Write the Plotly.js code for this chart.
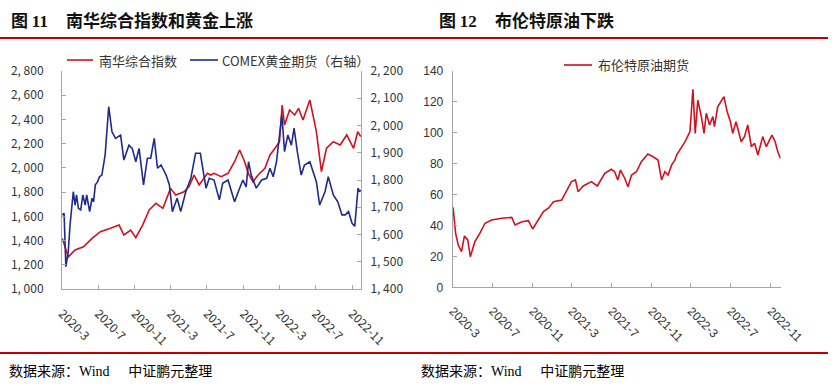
<!DOCTYPE html>
<html>
<head>
<meta charset="utf-8">
<script src="https://cdn.plot.ly/plotly-3.0.1.min.js"></script>
<style>
html,body{margin:0;padding:0;background:#fff;}
#chart{width:837px;height:386px;}
</style>
</head>
<body>
<div id="chart"></div>
<script>
// ---- Figure 11: Nanhua composite index (left axis) ----
const nhDates = ['2020-03-02','2020-03-22','2020-04-14','2020-05-12','2020-06-10','2020-07-08','2020-08-11','2020-09-09','2020-09-25','2020-10-18','2020-11-04','2020-11-27','2020-12-19','2021-01-11','2021-02-03','2021-02-19','2021-03-01','2021-03-18','2021-04-15','2021-05-02','2021-05-19','2021-06-05','2021-07-03','2021-07-14','2021-07-25','2021-08-18','2021-09-10','2021-10-02','2021-10-19','2021-11-05','2021-11-17','2021-12-03','2021-12-20','2022-01-12','2022-01-29','2022-02-15','2022-03-02','2022-03-11','2022-03-19','2022-04-05','2022-04-22','2022-05-05','2022-05-20','2022-06-12','2022-06-23','2022-07-04','2022-07-21','2022-08-07','2022-08-30','2022-09-22','2022-10-14','2022-11-06','2022-11-20','2022-11-30'];
const nhValues = [1418,1265,1322,1349,1418,1473,1501,1528,1446,1487,1424,1528,1652,1708,1666,1776,1831,1776,1803,1845,1941,1859,1955,1941,1955,1927,1955,2051,2148,2051,1955,1886,1941,1997,2107,2162,2216,2519,2354,2478,2437,2492,2395,2561,2437,2299,1969,2162,2216,2189,2272,2162,2299,2258];

// ---- Figure 11: COMEX gold futures (right axis) ----
const auDates = ['2020-03-02','2020-03-08','2020-03-14','2020-03-22','2020-03-28','2020-04-08','2020-04-14','2020-04-19','2020-04-25','2020-05-03','2020-05-10','2020-05-18','2020-05-23','2020-06-02','2020-06-10','2020-06-15','2020-06-21','2020-06-29','2020-07-05','2020-07-13','2020-07-24','2020-08-05','2020-08-16','2020-08-28','2020-09-14','2020-09-25','2020-10-12','2020-10-23','2020-11-04','2020-11-15','2020-11-30','2020-12-13','2020-12-24','2021-01-05','2021-01-16','2021-01-28','2021-02-14','2021-02-25','2021-03-07','2021-03-23','2021-04-04','2021-04-21','2021-05-08','2021-05-24','2021-06-09','2021-06-20','2021-06-28','2021-07-09','2021-07-25','2021-08-12','2021-08-23','2021-09-10','2021-09-21','2021-10-02','2021-10-19','2021-10-30','2021-11-10','2021-11-18','2021-11-27','2021-12-14','2022-01-01','2022-01-18','2022-01-29','2022-02-09','2022-02-20','2022-03-02','2022-03-10','2022-03-19','2022-03-30','2022-04-11','2022-04-20','2022-05-01','2022-05-14','2022-05-25','2022-06-12','2022-06-23','2022-07-04','2022-07-15','2022-08-02','2022-08-13','2022-08-30','2022-09-14','2022-09-28','2022-10-09','2022-10-20','2022-11-01','2022-11-10','2022-11-21','2022-11-26','2022-11-30'];
const auValues = [1672,1678,1482,1537,1635,1757,1708,1745,1696,1690,1745,1708,1745,1684,1733,1720,1782,1794,1812,1818,1892,2069,1977,1953,1965,1873,1928,1916,1867,1916,1782,1880,1880,1953,1843,1855,1818,1782,1684,1733,1684,1757,1806,1898,1898,1830,1770,1806,1800,1727,1788,1800,1757,1720,1770,1800,1775,1867,1818,1770,1800,1806,1843,1812,1867,1953,2039,1904,1965,1928,1990,1904,1818,1855,1867,1830,1794,1708,1757,1812,1745,1720,1672,1672,1684,1641,1630,1770,1757,1763];

// ---- Figure 12: Brent crude futures ----
const brDates = ['2020-03-02','2020-03-10','2020-03-18','2020-03-28','2020-04-06','2020-04-16','2020-04-24','2020-05-08','2020-05-23','2020-06-08','2020-06-28','2020-07-29','2020-08-29','2020-09-08','2020-09-29','2020-10-19','2020-11-01','2020-11-19','2020-12-04','2020-12-19','2021-01-04','2021-01-29','2021-02-14','2021-02-28','2021-03-12','2021-03-20','2021-04-05','2021-04-30','2021-05-18','2021-06-10','2021-06-30','2021-07-10','2021-07-20','2021-07-28','2021-08-10','2021-08-20','2021-08-31','2021-09-15','2021-09-30','2021-10-20','2021-11-05','2021-11-20','2021-12-01','2021-12-11','2021-12-21','2022-01-01','2022-01-11','2022-01-16','2022-01-26','2022-02-11','2022-02-26','2022-03-07','2022-03-14','2022-03-22','2022-04-02','2022-04-10','2022-04-17','2022-04-27','2022-05-07','2022-05-12','2022-05-22','2022-06-02','2022-06-10','2022-06-20','2022-06-30','2022-07-07','2022-07-17','2022-08-02','2022-08-12','2022-08-22','2022-09-02','2022-09-12','2022-09-22','2022-10-07','2022-10-18','2022-11-04','2022-11-14','2022-11-22','2022-11-30'];
const brValues = [51.7,34.9,27.3,23.0,33.2,30.6,19.8,29.5,34.9,41.4,43.5,44.6,45.2,40.3,42.4,43.1,37.7,43.5,48.9,51.1,55.3,56.4,62.9,68.3,69.4,61.8,65.5,68.3,65.5,73.7,76.3,74.7,69.4,75.8,70.5,65.0,72.6,74.7,81.2,86.2,84.4,82.3,69.4,74.7,72.6,79.1,82.3,85.5,88.8,94.1,100.6,128.0,99.5,121.0,110.3,99.5,112.5,104.9,110.3,103.8,116.7,120.0,123.2,113.5,107.0,99.5,107.0,94.1,97.4,104.9,90.9,93.1,85.5,97.4,90.9,98.4,94.1,87.7,83.4];

// ---- Tick labels ----
const xTickDates = ['2020-03-01','2020-07-01','2020-11-01','2021-03-01','2021-07-01','2021-11-01','2022-03-01','2022-07-01','2022-11-01'];
const xTickLabels = ['2020-3','2020-7','2020-11','2021-3','2021-7','2021-11','2022-3','2022-7','2022-11'];
const yLeftTicks = [1000,1200,1400,1600,1800,2000,2200,2400,2600,2800];
const yLeftLabels = ['1, 000','1, 200','1, 400','1, 600','1, 800','2, 000','2, 200','2, 400','2, 600','2, 800'];
const yRightTicks = [1400,1500,1600,1700,1800,1900,2000,2100,2200];
const yRightLabels = ['1, 400','1, 500','1, 600','1, 700','1, 800','1, 900','2, 000','2, 100','2, 200'];
const yOilTicks = [0,20,40,60,80,100,120,140];

const seriesNames = ['南华综合指数','COMEX黄金期货（右轴）','布伦特原油期货'];

const W = 837, H = 386;
const px = v => v / W;
const py = v => 1 - v / H;

const RED = '#D0111F';
const BLUE = '#1E2B8C';
const AX = '#A6A6A6';
const cjk = 'Noto Sans CJK SC, sans-serif';
const sans = 'Liberation Sans, Arial, sans-serif';

const traces = [
  {x: nhDates, y: nhValues, xaxis: 'x', yaxis: 'y', type: 'scatter', mode: 'lines',
   name: seriesNames[0], line: {color: RED, width: 1.6}},
  {x: auDates, y: auValues, xaxis: 'x', yaxis: 'y2', type: 'scatter', mode: 'lines',
   name: seriesNames[1], line: {color: BLUE, width: 1.6}},
  {x: brDates, y: brValues, xaxis: 'x2', yaxis: 'y3', type: 'scatter', mode: 'lines',
   name: seriesNames[2], line: {color: RED, width: 1.6}}
];

const axCommon = {
  showgrid: false, zeroline: false, showline: true, linecolor: AX, linewidth: 1,
  ticks: 'inside', ticklen: 4, tickcolor: AX, tickwidth: 1
};

const layout = {
  width: W, height: H,
  margin: {l: 0, r: 0, t: 0, b: 0},
  paper_bgcolor: '#fff', plot_bgcolor: '#fff',
  showlegend: false,
  xaxis: Object.assign({}, axCommon, {
    domain: [px(62), px(361)], anchor: 'y', type: 'date',
    range: ['2020-03-01', '2022-12-01'],
    tickvals: xTickDates, ticktext: xTickLabels, tickangle: 45,
    tickfont: {family: cjk, size: 12, color: '#333'}, ticklabelstandoff: 12
  }),
  yaxis: Object.assign({}, axCommon, {
    domain: [py(289), py(71)], anchor: 'x', range: [1000, 2800],
    tickvals: yLeftTicks, ticktext: yLeftLabels,
    tickfont: {family: cjk, size: 12, color: '#333'}, ticklabelstandoff: 15
  }),
  yaxis2: Object.assign({}, axCommon, {
    overlaying: 'y', side: 'right', anchor: 'x', range: [1400, 2200],
    tickvals: yRightTicks, ticktext: yRightLabels,
    tickfont: {family: cjk, size: 12, color: '#333'}, ticklabelstandoff: 6
  }),
  xaxis2: Object.assign({}, axCommon, {
    domain: [px(452.7), px(780.7)], anchor: 'y3', type: 'date',
    range: ['2020-03-01', '2022-12-01'],
    tickvals: xTickDates, ticktext: xTickLabels, tickangle: 45,
    tickfont: {family: sans, size: 12, color: '#333'}, ticklabelstandoff: 11
  }),
  yaxis3: Object.assign({}, axCommon, {
    domain: [py(287.3), py(70.7)], anchor: 'x2', range: [0, 140],
    tickvals: yOilTicks,
    tickfont: {family: sans, size: 12, color: '#333'}, ticklabelstandoff: 6
  }),
  shapes: [
    {type: 'line', xref: 'paper', yref: 'paper', x0: 0, x1: px(828), y0: py(38), y1: py(38), line: {color: '#C00000', width: 2}},
    {type: 'line', xref: 'paper', yref: 'paper', x0: 0, x1: px(828), y0: py(353), y1: py(353), line: {color: '#C00000', width: 2}},
    {type: 'line', xref: 'paper', yref: 'paper', x0: px(67), x1: px(93), y0: py(60), y1: py(60), line: {color: RED, width: 1.6}},
    {type: 'line', xref: 'paper', yref: 'paper', x0: px(190), x1: px(218), y0: py(60), y1: py(60), line: {color: BLUE, width: 1.6}},
    {type: 'line', xref: 'paper', yref: 'paper', x0: px(564), x1: px(592), y0: py(65), y1: py(65), line: {color: RED, width: 1.6}}
  ],
  annotations: [
    {text: '<b>图 <span style="font-family:Liberation Serif">11</span></b>', x: px(9), y: py(20)},
    {text: '<b>南华综合指数和黄金上涨</b>', x: px(64), y: py(20)},
    {text: '<b>图 <span style="font-family:Liberation Serif">12</span></b>', x: px(437), y: py(20)},
    {text: '<b>布伦特原油下跌</b>', x: px(493), y: py(20)},
    {text: seriesNames[0], x: px(97), y: py(60), font: {family: cjk, size: 13, color: '#333'}},
    {text: 'COMEX黄金期货（右轴）', x: px(220), y: py(60), font: {family: cjk, size: 13, color: '#333'}},
    {text: seriesNames[2], x: px(596), y: py(65), font: {family: cjk, size: 13, color: '#333'}},
    {text: '数据来源：<span style="font-family:Liberation Serif">Wind</span>      中证鹏元整理', x: px(7), y: py(370), font: {family: cjk, size: 14, color: '#000'}},
    {text: '数据来源：<span style="font-family:Liberation Serif">Wind</span>      中证鹏元整理', x: px(419), y: py(370), font: {family: cjk, size: 14, color: '#000'}}
  ].map(a => Object.assign({xref: 'paper', yref: 'paper', xanchor: 'left', yanchor: 'middle', showarrow: false,
    font: {family: cjk, size: 17, color: '#111'}}, a))
};

Plotly.newPlot('chart', traces, layout, {displayModeBar: false, staticPlot: true});
</script>
</body>
</html>
